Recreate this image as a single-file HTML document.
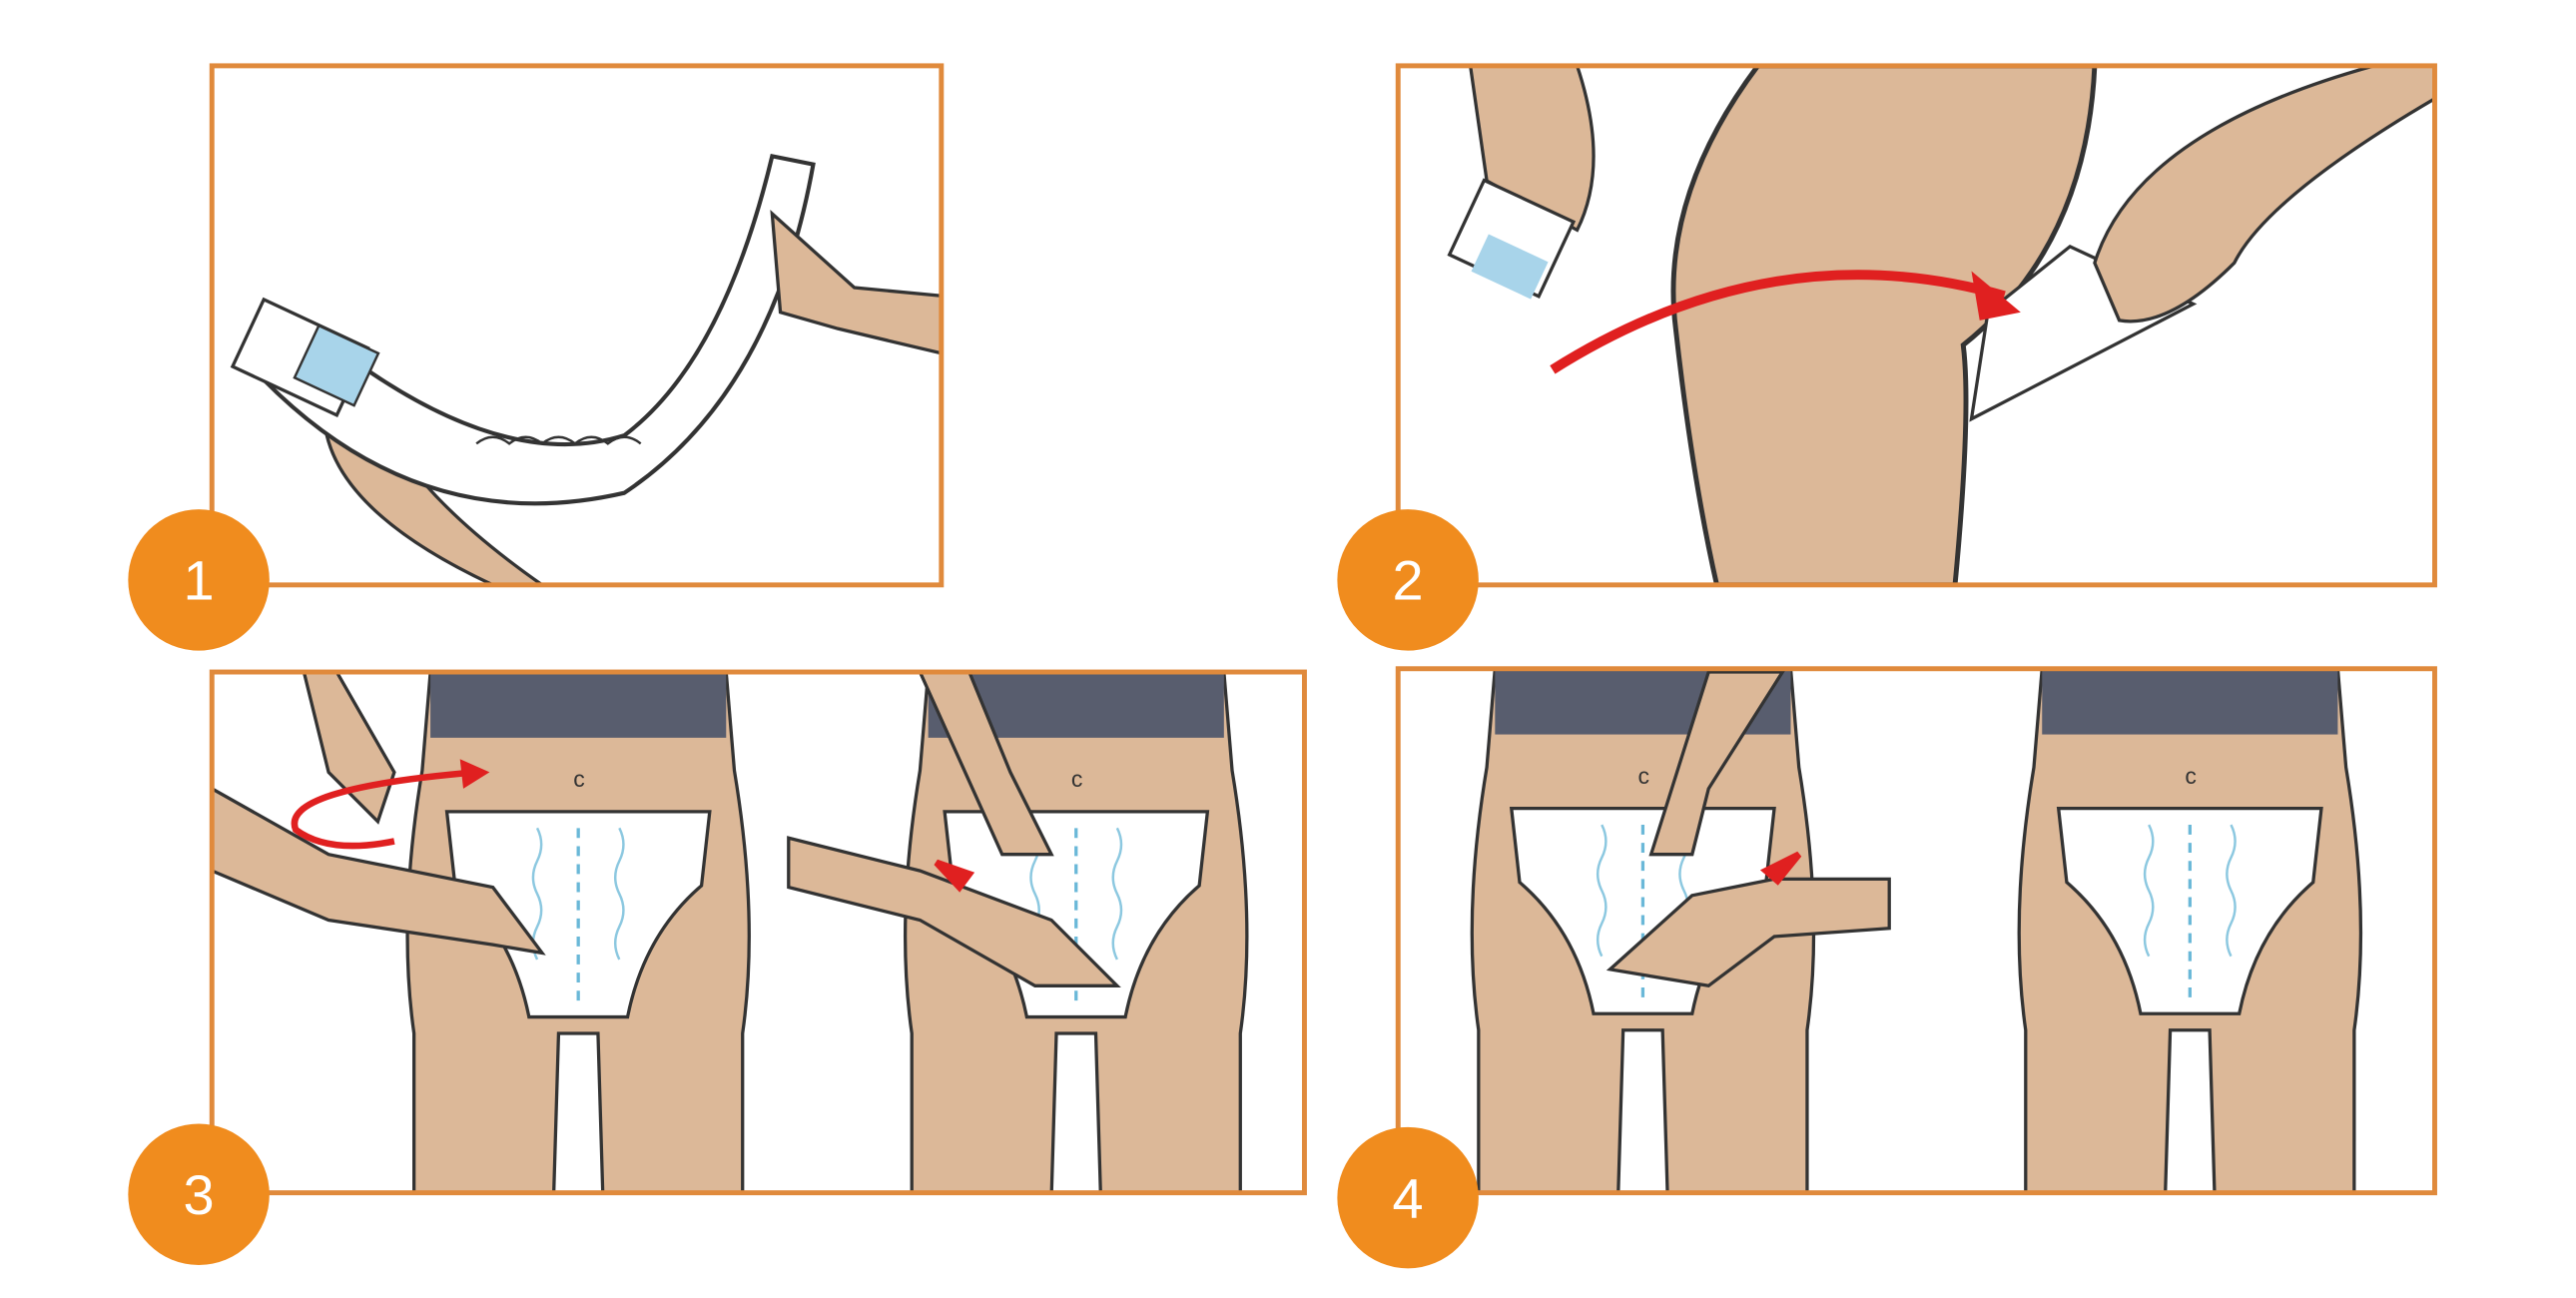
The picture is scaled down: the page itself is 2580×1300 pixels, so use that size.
<!DOCTYPE html>
<html><head><meta charset="utf-8"><style>
html,body{margin:0;padding:0;background:#fff}
svg{display:block}
text{font-family:"Liberation Sans",sans-serif}
</style></head><body>
<svg width="2580" height="1300" viewBox="0 0 1568 790" xmlns="http://www.w3.org/2000/svg">
<rect width="1568" height="790" fill="#fff"/>
<defs>
<clipPath id="c1"><rect x="129" y="40" width="444" height="316"/></clipPath>
<clipPath id="c2"><rect x="851" y="40" width="631" height="316"/></clipPath>
<clipPath id="c3"><rect x="129" y="409" width="665" height="317"/></clipPath>
<clipPath id="c4"><rect x="851" y="407" width="631" height="319"/></clipPath>
<g id="body">
<path d="M-90,0 L90,0 L95,60 Q110,150 100,220 L100,320 L15,320 L12,220 L-12,220 L-15,320 L-100,320 L-100,220 Q-110,150 -95,60 Z" fill="#dcb898" stroke="#333" stroke-width="2"/>
<rect x="-90" y="0" width="180" height="40" fill="#585d6e"/>
<text x="-3" y="70" font-size="14" fill="#333">c</text>
</g>
<g id="diaper">
<path d="M-80,85 L80,85 L75,130 Q40,160 30,210 L-30,210 Q-40,160 -75,130 Z" fill="#fff" stroke="#333" stroke-width="2"/>
<line x1="0" y1="95" x2="0" y2="205" stroke="#6ab8d8" stroke-width="2" stroke-dasharray="6,5"/>
<path d="M-25,95 q5,10 0,20 q-5,10 0,20 q5,10 0,20 q-5,10 0,20" fill="none" stroke="#8cc8e0" stroke-width="1.5"/>
<path d="M25,95 q5,10 0,20 q-5,10 0,20 q5,10 0,20 q-5,10 0,20" fill="none" stroke="#8cc8e0" stroke-width="1.5"/>
</g>
</defs>
<!-- Panel 1 -->
<g clip-path="url(#c1)">
<path d="M200,230 Q180,300 300,356 L330,356 Q250,300 230,250 Z" fill="#dcb898" stroke="#333" stroke-width="2"/>
<path d="M150,220 Q250,330 380,300 Q470,240 495,100 L470,95 Q440,220 380,265 Q300,290 190,200 Z" fill="#fff" stroke="#333" stroke-width="2.5"/>
<path d="M290,270 q10,-8 20,0 q10,-8 20,0 q10,-8 20,0 q10,-8 20,0 q10,-8 20,0" fill="none" stroke="#333" stroke-width="1.5"/>
<rect x="148" y="195" width="70" height="45" fill="#fff" stroke="#333" stroke-width="2" transform="rotate(25 183 217)"/>
<rect x="185" y="205" width="40" height="35" fill="#a8d4ea" stroke="#333" stroke-width="1.5" transform="rotate(25 205 222)"/>
<path d="M470,130 L520,175 L573,180 L573,215 L510,200 L475,190 Z" fill="#dcb898" stroke="#333" stroke-width="2"/>
</g>
<rect x="129" y="40" width="444" height="316" fill="none" stroke="#e08a3c" stroke-width="3"/>
<!-- Panel 2 -->
<g clip-path="url(#c2)">
<path d="M1070,40 Q1010,120 1020,200 Q1030,290 1045,356 L1190,356 Q1200,250 1195,210 Q1270,150 1275,40 Z" fill="#dcb898" stroke="#333" stroke-width="3"/>
<path d="M1210,190 L1260,150 L1335,185 L1200,255 Z" fill="#fff" stroke="#333" stroke-width="2"/>
<path d="M1275,160 Q1300,80 1445,40 L1482,40 L1482,60 Q1380,120 1360,160 Q1320,200 1290,195 Z" fill="#dcb898" stroke="#333" stroke-width="2"/>
<path d="M895,40 L960,40 Q980,100 960,140 L905,110 Z" fill="#dcb898" stroke="#333" stroke-width="2"/>
<rect x="890" y="120" width="60" height="50" fill="#fff" stroke="#333" stroke-width="2" transform="rotate(25 920 145)"/>
<rect x="900" y="150" width="40" height="25" fill="#a8d4ea" transform="rotate(25 920 160)"/>
<path d="M945,225 Q1080,140 1220,180" fill="none" stroke="#e02020" stroke-width="6"/>
<path d="M1230,190 L1200,165 L1205,195 Z" fill="#e02020"/>
</g>
<rect x="851" y="40" width="631" height="316" fill="none" stroke="#e08a3c" stroke-width="3"/>
<!-- Panel 3 -->
<g clip-path="url(#c3)">
<use href="#body" x="352" y="409"/>
<use href="#diaper" x="352" y="409"/>
<use href="#body" x="655" y="409"/>
<use href="#diaper" x="655" y="409"/>
<path d="M129,480 L200,520 L300,540 L330,580 L300,575 L200,560 L129,530 Z" fill="#dcb898" stroke="#333" stroke-width="2"/>
<path d="M185,409 L205,409 L240,470 L230,500 L200,470 Z" fill="#dcb898" stroke="#333" stroke-width="2"/>
<path d="M480,510 L560,530 L640,560 L680,600 L630,600 L560,560 L480,540 Z" fill="#dcb898" stroke="#333" stroke-width="2"/>
<path d="M560,409 L590,409 L615,470 L640,520 L610,520 Z" fill="#dcb898" stroke="#333" stroke-width="2"/>
<path d="M290,470 Q170,480 180,505 Q200,520 240,512" fill="none" stroke="#e02020" stroke-width="4"/>
<path d="M298,470 L280,462 L282,480 Z" fill="#e02020"/>
<path d="M570,525 L590,532 L584,540 Z" fill="#e02020" stroke="#e02020" stroke-width="4"/>
</g>
<rect x="129" y="409" width="665" height="317" fill="none" stroke="#e08a3c" stroke-width="3"/>
<!-- Panel 4 -->
<g clip-path="url(#c4)">
<use href="#body" x="1000" y="407"/>
<use href="#diaper" x="1000" y="407"/>
<use href="#body" x="1333" y="407"/>
<use href="#diaper" x="1333" y="407"/>
<path d="M1030,545 L1080,535 L1150,535 L1150,565 L1080,570 L1040,600 L980,590 Z" fill="#dcb898" stroke="#333" stroke-width="2"/>
<path d="M1040,409 L1085,409 L1040,480 L1030,520 L1005,520 Z" fill="#dcb898" stroke="#333" stroke-width="2"/>
<path d="M1095,520 L1075,530 L1082,536 Z" fill="#e02020" stroke="#e02020" stroke-width="4"/>
</g>
<rect x="851" y="407" width="631" height="319" fill="none" stroke="#e08a3c" stroke-width="3"/>
<!-- circles -->
<g fill="#f08c1e">
<circle cx="121" cy="353" r="43"/><circle cx="857" cy="353" r="43"/>
<circle cx="121" cy="727" r="43"/><circle cx="857" cy="729" r="43"/>
</g>
<g fill="#fff" font-size="34" text-anchor="middle">
<text x="121" y="365">1</text><text x="857" y="365">2</text>
<text x="121" y="739">3</text><text x="857" y="741">4</text>
</g>
</svg>
</body></html>
